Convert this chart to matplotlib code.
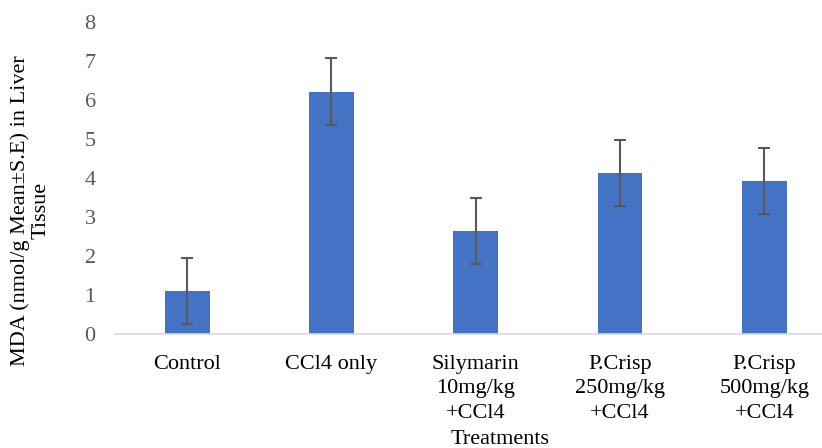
import numpy as np
import matplotlib
matplotlib.use("Agg")
import matplotlib.pyplot as plt

plt.rcParams['font.family'] = ['Liberation Serif', 'DejaVu Serif']

categories = ["Control", "CCl4 only", "Silymarin\n10mg/kg\n+CCl4",
              "P.Crisp\n250mg/kg\n+CCl4", "P.Crisp\n500mg/kg\n+CCl4"]
mda_mean = [1.10, 6.21, 2.64, 4.13, 3.92]
mda_se = [0.85, 0.85, 0.85, 0.85, 0.85]

fig = plt.figure(figsize=(8.22, 4.48), dpi=100)
ax = fig.add_axes([0.14, 0.2545, 0.86, 0.697])

x = np.arange(len(categories))
ax.bar(x, mda_mean, width=0.31, color='#4472C4', zorder=2)
ax.errorbar(x, mda_mean, yerr=mda_se, fmt='none', ecolor='#595959',
            elinewidth=1.5, capsize=4, capthick=1.5, zorder=3)

ax.set_xlim(-0.5, 4.4)
ax.set_ylim(0, 8)
ax.set_yticks(range(0, 9))
ax.set_xticks(x)
ax.set_xticklabels(categories, fontsize=16, color='black', linespacing=1.4)
ax.tick_params(axis='y', labelsize=16, labelcolor='#595959', length=0, pad=14)
ax.tick_params(axis='x', length=0, pad=15)

for s in ['top', 'right', 'left']:
    ax.spines[s].set_visible(False)
ax.spines['bottom'].set_color('#D9D9D9')
ax.spines['bottom'].set_linewidth(1.2)

fig.text(0.037, 0.53, "MDA (nmol/g Mean\u00b1S.E) in Liver\nTissue", rotation=90,
         ha='center', va='center', fontsize=16, linespacing=1.05)
fig.text(0.608, 0.02, "Treatments", ha='center', va='center', fontsize=16)

fig.savefig("out.png", dpi=100)
